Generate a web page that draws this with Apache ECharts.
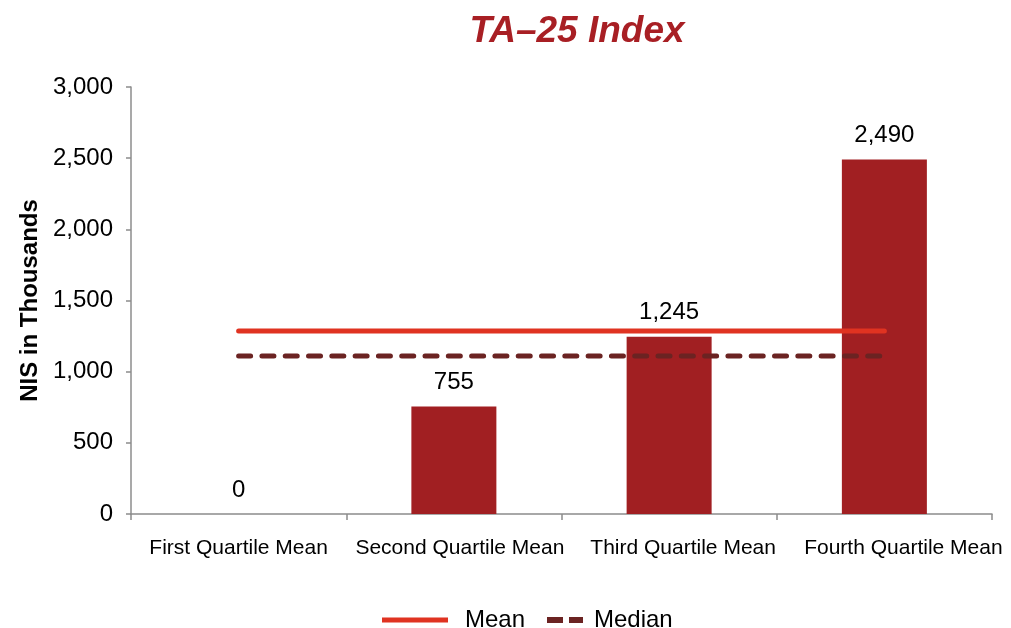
<!DOCTYPE html>
<html>
<head>
<meta charset="utf-8">
<script src="https://cdn.jsdelivr.net/npm/echarts@6/dist/echarts.min.js"></script>
<style>html,body{margin:0;padding:0;background:#fff}#c{width:1011px;height:628px}</style>
</head>
<body>
<div id="c"></div>
<script>
const categories = ['First Quartile Mean', 'Second Quartile Mean', 'Third Quartile Mean', 'Fourth Quartile Mean'];
const barValues = [0, 755, 1245, 2490];
const meanValues = [1285, 1285, 1285, 1285];
const medianValues = [1110, 1110, 1110, 1110];
const yTicks = [0, 500, 1000, 1500, 2000, 2500, 3000];

// label nudges (px to the right) to mimic the reference placement
const labelShift = [0, 6, 14, 19];

const chart = echarts.init(document.getElementById('c'));
const font = 'Liberation Sans, Arial, sans-serif';
const axisGrey = '#8c8c8c';
const meanColor = '#E03321';
const medianColor = '#6B2322';
chart.setOption({
  animation: false,
  textStyle: { fontFamily: font },
  title: {
    text: 'TA\u201325 Index',
    left: 572, top: 8, textAlign: 'center',
    textStyle: { fontFamily: font, fontSize: 37, fontWeight: 'bold', fontStyle: 'italic', color: '#A81F24' }
  },
  legend: [
    { data: [{ name: 'Mean', icon: 'rect' }], left: 377, top: 603, itemWidth: 66, itemHeight: 5,
      itemStyle: { color: meanColor, borderWidth: 0 },
      textStyle: { fontSize: 24, color: '#000', fontFamily: font, padding: [0, 0, 0, 12] } },
    { data: [{ name: 'Median', icon: 'path://M0,0h16v6h-16z M22,0h14v6h-14z' }], left: 542, top: 603, itemWidth: 36, itemHeight: 6,
      itemStyle: { color: medianColor, borderWidth: 0 },
      textStyle: { fontSize: 24, color: '#000', fontFamily: font, padding: [0, 0, 0, 6] } }
  ],
  grid: { left: 131, right: 19, top: 87, bottom: 114, containLabel: false },
  xAxis: {
    type: 'category',
    data: categories.map((c, i) => ({ value: c, textStyle: { padding: [0, 0, 0, 2 * labelShift[i]] } })),
    boundaryGap: true,
    axisLine: { lineStyle: { color: axisGrey, width: 1.5 } },
    axisTick: { show: true, length: 6, lineStyle: { color: axisGrey, width: 1.5 } },
    axisLabel: { fontSize: 21, color: '#000', margin: 24, fontFamily: font, interval: 0 }
  },
  yAxis: {
    type: 'value', min: yTicks[0], max: yTicks[yTicks.length - 1], interval: 500,
    name: 'NIS in Thousands', nameLocation: 'middle', nameGap: 89, nameRotate: 90,
    nameTextStyle: { fontSize: 24, fontWeight: 'bold', color: '#000', fontFamily: font },
    axisLine: { show: true, lineStyle: { color: axisGrey, width: 1.5 } },
    axisTick: { show: true, length: 5, lineStyle: { color: axisGrey, width: 1.5 } },
    splitLine: { show: false },
    axisLabel: { fontSize: 24, color: '#000', margin: 18, fontFamily: font,
      formatter: v => v.toLocaleString('en-US') }
  },
  series: [
    {
      name: 'Quartile', type: 'bar', data: barValues, barWidth: 85,
      itemStyle: { color: '#A11F22' },
      label: { show: true, position: 'top', distance: 12, fontSize: 24, color: '#000', fontFamily: font,
        formatter: p => p.value.toLocaleString('en-US') },
      z: 1
    },
    {
      name: 'Mean', type: 'line', data: meanValues, symbol: 'none',
      lineStyle: { color: meanColor, width: 5, cap: 'round' },
      itemStyle: { color: meanColor }, z: 3
    },
    {
      name: 'Median', type: 'line', data: medianValues, symbol: 'none',
      lineStyle: { color: medianColor, width: 5, type: [12, 11.3], cap: 'round' },
      itemStyle: { color: medianColor }, z: 3
    }
  ]
});
</script>
</body>
</html>
